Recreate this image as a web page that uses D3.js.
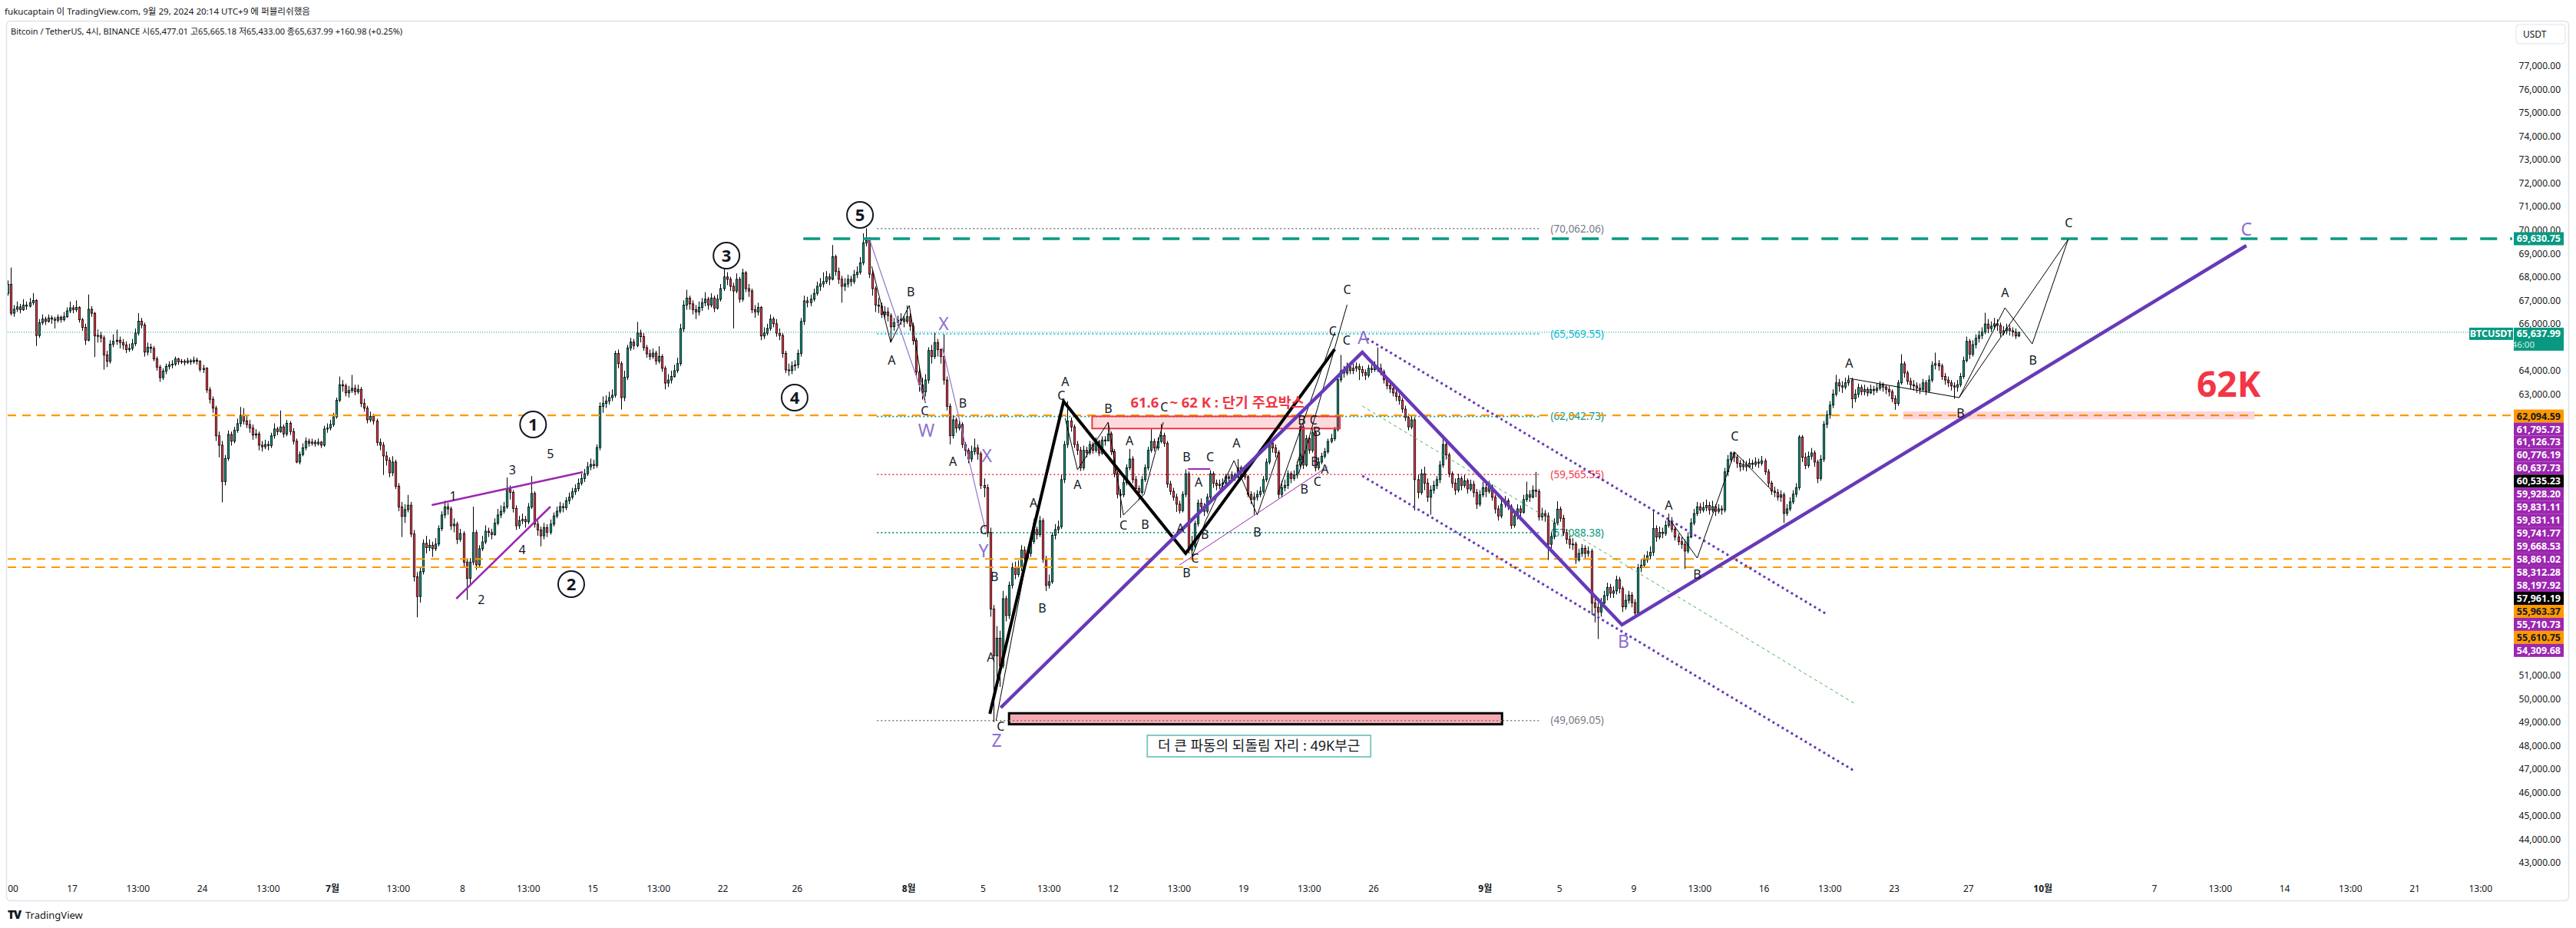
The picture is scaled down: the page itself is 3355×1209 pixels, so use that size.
<!DOCTYPE html>
<html><head><meta charset="utf-8">
<script src="https://cdn.jsdelivr.net/npm/d3@7"></script>
<style>
html,body{margin:0;padding:0;background:#fff;}
svg{display:block;}
text{font-family:"Noto Sans","Noto Sans CJK KR",sans-serif;}
</style></head><body>
<script>
// ---------------- DATA ----------------
// 4h candles of BTC/USDT (KST wall clock), values in thousand USDT: [high, low, close]; open = previous close
const firstOpen = 67.30;
const juneBars = [
[67.85,67.20,67.68],[68.40,66.35,66.45],[66.80,66.30,66.62],
[66.95,66.50,66.72],[66.85,66.45,66.60],[67.05,66.55,66.80],[66.95,66.60,66.75],[67.10,66.70,66.90],[67.31,66.80,66.99],
[67.05,65.05,65.50],[66.20,65.40,66.05],[66.40,65.95,66.20],[66.30,65.95,66.10],[66.40,66.05,66.25],[66.35,66.00,66.20],
[66.30,65.80,66.15],[66.40,66.05,66.28],[66.35,66.05,66.18],[66.50,66.10,66.30],[66.70,66.25,66.55],[66.95,66.45,66.68],
[66.80,66.45,66.60],[67.00,66.50,66.70],[66.75,66.05,66.17],[66.25,65.70,65.85],[66.00,65.10,65.30],[67.25,65.25,66.62],
[66.75,66.30,66.45],[66.50,64.58,65.48],[65.75,65.20,65.50],[65.65,65.20,65.40],[65.50,64.04,64.67],[64.85,64.15,64.40],
[65.30,64.30,65.13],[65.55,65.00,65.25],[65.75,65.10,65.30],[65.45,64.95,65.20],[65.35,64.90,65.10],[65.25,64.75,64.90],
[65.15,64.80,64.95],[65.35,64.85,65.15],[65.80,65.05,65.60],[66.45,65.50,66.11],[66.25,65.80,65.95],[66.05,64.60,64.79],
[65.20,64.65,65.00],[65.15,64.75,64.95],[65.05,64.40,64.50],[64.60,64.00,64.15],[64.25,63.52,63.70],[64.10,63.60,63.98],
[64.30,63.85,64.18],[64.40,64.05,64.25],[64.45,64.10,64.28],[64.60,64.20,64.50],[64.55,64.25,64.38],[64.50,64.28,64.40],
[64.48,64.22,64.35],[64.55,64.28,64.42],[64.50,64.25,64.38],[64.60,64.30,64.45],[64.55,64.25,64.40],[64.45,63.95,64.05],
[64.25,63.90,64.10],[64.15,63.05,63.18],[63.30,62.60,62.78],[62.90,62.20,62.40],[62.50,61.00,61.22],[61.40,60.30,60.82],
[61.00,58.38,59.27],[60.40,59.10,60.25],[61.45,60.15,61.28],[61.40,60.80,60.99],[61.60,60.90,61.45],[61.95,61.35,61.74],
[62.45,61.60,62.09],[62.40,61.70,61.85],[62.10,61.55,61.70],[61.90,61.35,61.55],[61.70,61.05,61.25],[61.50,61.10,61.30],
[61.40,60.60,60.82],[61.00,60.55,60.75],[61.05,60.65,60.85],[61.00,60.60,60.80],[61.35,60.70,61.22],[61.75,61.10,61.51],
[61.60,61.25,61.40],[62.30,61.35,61.60],[61.70,61.15,61.30],[61.90,61.20,61.75],[61.85,61.25,61.40],[61.55,60.85,60.99],
[61.10,60.05,60.10],[60.55,60.00,60.42],[60.90,60.35,60.71],[61.15,60.60,60.99],[61.10,60.75,60.90],[61.10,60.80,60.95],
[61.05,60.75,60.88],[61.10,60.80,60.95],[61.00,60.70,60.82],[61.65,60.75,61.51],[61.75,61.35,61.55],[61.90,61.45,61.70]
];
const julyBars = [
[62.20,61.60,62.03],[62.85,61.95,62.74],[63.75,62.65,63.40],[63.60,63.10,63.35],[63.45,62.90,63.05],[63.35,62.85,63.15],
[63.82,63.05,63.25],[63.40,62.95,63.10],[63.40,63.00,63.20],[63.30,62.45,62.60],[62.80,62.25,62.40],[62.50,61.75,61.90],
[62.25,61.80,62.05],[62.15,61.70,61.85],[61.95,60.80,60.94],[61.10,60.60,60.82],[60.95,59.55,60.36],[60.55,59.95,60.17],
[60.30,59.45,59.64],[60.35,59.50,60.10],[60.20,58.95,59.07],[59.20,58.00,58.18],[58.40,56.90,57.78],[58.30,57.50,58.07],
[58.70,57.95,58.26],[58.40,56.90,57.03],[57.20,55.00,55.20],[55.40,53.47,54.36],[55.60,54.10,55.42],[56.80,55.30,56.63],
[56.95,56.20,56.45],[56.80,56.30,56.55],[56.70,56.05,56.40],[56.85,56.30,56.60],[57.40,56.50,57.26],[58.00,57.15,57.84],
[58.45,57.70,58.18],[58.35,57.85,58.10],[58.20,57.20,57.38],[57.70,57.10,57.45],[57.55,56.60,56.80],[57.25,56.70,57.05],
[57.15,55.60,55.83],[55.95,54.22,55.14],[56.00,54.90,55.83],[58.20,55.70,57.09],[57.20,55.50,55.71],[56.55,55.60,56.40],
[56.95,56.30,56.69],[57.40,56.60,57.15],[57.30,56.90,57.09],[57.25,56.80,57.00],[57.70,56.95,57.49],[58.10,57.40,57.84],
[58.25,57.70,58.00],[58.40,57.90,58.18],[59.44,58.10,58.93],[59.10,58.50,58.81],[58.90,57.95,58.12],[58.25,57.20,57.38],
[57.80,57.25,57.60],[57.90,57.45,57.65],[57.80,57.30,57.55],[58.35,57.45,58.18],[59.50,58.10,58.76],[58.85,57.30,57.45],
[57.60,56.95,57.20],[57.35,56.50,56.95],[57.50,56.80,57.30],[57.45,56.90,57.10],[57.65,57.00,57.45],[57.95,57.35,57.80],
[58.20,57.70,58.00],[58.40,57.90,58.20],[58.35,57.95,58.15],[58.60,58.05,58.45],[58.80,58.30,58.60],[59.00,58.50,58.83],
[59.15,58.70,58.96],[59.40,58.85,59.20],[59.60,59.10,59.40],[59.80,59.25,59.60],[60.10,59.50,59.90],[60.25,59.75,60.00],
[60.20,59.80,59.95],[60.85,59.85,60.72],[62.65,60.60,62.47],[62.90,62.20,62.60],[62.95,62.40,62.70],[63.10,62.55,62.85],
[63.20,62.70,62.95],[64.85,62.85,64.73],[64.90,64.10,64.30],[64.40,62.34,62.85],[64.00,62.70,63.72],[65.10,63.60,64.97],
[65.40,64.85,65.22],[65.35,64.90,65.07],[66.08,65.00,65.60],[65.75,65.20,65.45],[65.60,64.85,64.98],[65.10,64.55,64.72],
[64.90,64.45,64.60],[64.95,64.50,64.75],[64.85,64.25,64.41],[65.04,64.30,64.60],[64.70,63.95,64.10],[64.20,63.20,63.47],
[63.85,63.30,63.60],[64.00,63.45,63.75],[64.25,63.70,64.00],[64.55,63.90,64.30],[66.00,64.20,65.79],[67.00,65.65,66.80],
[67.45,66.60,67.10],[67.20,66.60,66.85],[67.00,66.40,66.60],[66.80,66.20,66.50],[66.95,66.35,66.70],[67.10,66.55,66.90],
[67.35,66.75,67.05],[67.15,66.60,66.80],[67.30,66.70,67.10],[67.20,66.50,66.67],[67.25,66.60,67.05],[67.70,66.95,67.50],
[68.42,67.40,68.00],[68.20,67.65,67.90],[68.00,67.40,67.60],[67.75,65.80,67.40],[68.15,67.30,67.90],[68.00,66.90,67.05],
[68.35,66.95,68.17],[68.25,67.35,67.50],[67.70,67.15,67.40],[67.50,66.45,66.60],[66.80,66.25,66.50],[66.90,66.35,66.70],
[66.75,65.30,65.48],[65.85,65.35,65.60],[66.00,65.50,65.80],[66.40,65.70,66.20],[66.30,65.85,66.00],[66.20,65.45,65.60],
[65.80,65.30,65.50],[65.60,64.55,64.73],[64.85,63.90,64.03],[64.30,63.78,64.00],[64.40,63.85,64.20],[64.45,64.00,64.25],
[64.90,64.10,64.73],[66.25,64.60,66.10],[67.20,65.95,66.98],[67.15,66.70,66.90],[67.25,66.75,67.05],[67.50,66.95,67.30],
[67.80,67.20,67.60],[67.95,67.40,67.70],[68.20,67.55,67.80],[68.25,67.70,68.00],[68.15,67.65,67.90],[69.36,67.85,68.86],
[68.95,68.05,68.23],[68.40,67.70,67.90],[68.05,66.90,67.60],[67.95,67.40,67.70],[68.10,67.55,67.90],[68.05,67.60,67.80],
[68.30,67.70,68.10],[68.45,67.95,68.20],[68.85,68.10,68.60],[69.86,68.50,69.45],[70.08,69.30,69.55],[69.70,67.95,68.12],
[68.30,67.20,67.50],[67.60,66.50,66.80],[67.10,66.45,66.75],[66.90,66.25,66.40],[66.75,66.20,66.50],[66.70,66.10,66.35],
[66.45,65.20,65.87],[66.25,65.70,66.05],[66.35,65.90,66.15],[66.45,65.95,66.20],[66.35,65.85,66.10],[66.78,66.00,66.30]
];
const augBars = [
[66.45,65.70,65.90],[66.05,65.10,65.28],[65.40,63.80,63.94],[64.20,63.10,63.40],[63.70,62.77,63.10],[63.85,62.90,63.60],
[65.00,63.45,64.86],[65.10,64.30,64.60],[65.62,64.50,65.20],[65.35,64.60,64.90],[64.95,64.30,64.60],[65.55,63.40,63.60],
[63.75,62.30,62.48],[62.60,60.85,61.23],[62.10,61.10,61.90],[62.00,61.35,61.55],[61.95,61.45,61.70],[61.80,60.70,60.85],
[60.95,60.35,60.60],[60.70,60.05,60.23],[60.80,60.10,60.55],[61.10,60.40,60.70],[60.85,60.20,60.45],[60.55,58.95,59.10],
[59.40,58.60,59.00],[59.15,56.90,57.09],[57.30,53.50,53.83],[54.00,49.00,51.83],[53.10,50.90,52.58],[52.90,50.50,51.40],
[54.60,51.30,54.27],[54.40,53.30,53.55],[55.00,53.40,54.84],[55.80,54.70,55.59],[55.85,55.10,55.30],[55.90,55.20,55.60],
[56.55,55.45,56.34],[56.50,55.80,56.00],[56.45,55.90,56.20],[56.90,56.05,56.71],[57.40,56.60,57.22],[57.35,56.80,57.00],
[57.80,56.90,57.59],[57.70,55.80,55.96],[56.10,54.59,54.84],[55.30,54.70,54.99],[57.10,54.90,56.97],[57.45,56.80,57.22],
[57.60,57.05,57.34],[59.55,57.25,59.35],[61.00,59.20,60.85],[62.70,60.70,61.85],[62.00,61.40,61.60],[61.70,60.70,60.85],
[61.00,60.40,60.60],[60.75,59.72,59.85],[60.80,59.75,60.60],[60.75,60.30,60.50],[61.00,60.40,60.85],[60.95,60.45,60.60],
[61.15,60.50,60.98],[61.05,60.35,60.48],[61.20,60.40,61.04],[61.20,60.80,61.00],[61.79,61.00,61.30],[61.40,60.40,60.54],
[60.65,59.45,59.60],[59.70,58.55,58.72],[58.95,57.72,58.70],[59.40,58.60,59.22],[60.00,59.10,59.85],[60.66,59.75,60.23],
[60.35,59.20,59.35],[59.50,58.80,58.97],[59.10,58.47,58.80],[59.50,58.70,59.35],[60.00,59.25,59.85],[60.75,59.75,60.60],
[61.54,60.50,60.98],[61.10,60.55,60.70],[61.15,60.60,60.98],[61.73,60.90,61.23],[61.35,60.75,60.90],[61.00,59.00,59.16],
[59.30,58.70,58.85],[59.00,58.45,58.60],[58.75,57.97,58.30],[58.45,57.90,58.03],[58.85,57.95,58.72],[59.79,58.60,59.60],
[59.70,56.20,56.34],[56.95,56.03,56.50],[57.60,56.40,57.47],[58.50,57.35,58.35],[58.55,58.00,58.20],[58.35,57.80,58.00],
[58.75,57.90,58.60],[59.75,58.50,59.60],[59.70,59.00,59.20],[59.35,58.90,59.10],[59.35,58.95,59.15],[59.40,59.00,59.20],
[59.60,59.10,59.47],[59.60,59.25,59.40],[59.70,59.30,59.55],[59.65,59.30,59.45],[60.23,59.40,59.85],[59.95,59.55,59.75],
[59.85,59.35,59.47],[59.55,58.60,58.72],[58.85,58.30,58.50],[58.80,57.85,58.60],[58.90,58.45,58.72],[59.05,58.60,58.85],
[59.50,58.75,59.35],[60.25,59.25,60.10],[61.10,60.00,60.91],[61.05,60.50,60.70],[60.85,60.30,60.50],[60.60,58.55,58.72],
[59.30,58.60,59.00],[59.35,58.85,59.10],[59.75,58.95,59.60],[59.70,59.20,59.40],[59.75,59.30,59.55],[60.10,59.40,59.97],
[61.75,59.85,61.60],[61.70,59.80,59.97],[61.25,59.90,61.10],[61.20,60.45,60.60],[61.50,60.50,61.35],[61.45,59.70,59.85],
[60.30,59.75,60.10],[60.50,60.00,60.35],[60.70,60.25,60.54],[61.10,60.45,60.98],[61.30,60.90,61.10],[61.60,61.00,61.48],
[63.80,61.40,63.61],[64.67,63.50,63.99],[64.20,63.70,63.90],[64.35,63.80,64.17],[64.30,63.85,64.00],[64.30,63.85,64.10],
[64.35,63.95,64.17],[64.30,63.60,64.05],[64.20,63.75,63.92],[64.05,63.60,63.80],[64.25,63.70,64.10],[64.25,63.90,64.05],
[64.40,63.95,64.15],[64.99,63.95,64.10],[64.30,63.80,63.95],[64.05,63.45,63.61],[63.75,63.20,63.36],[63.50,63.05,63.23],
[63.35,62.90,63.05],[63.20,62.70,62.90],[63.00,62.55,62.73],[62.85,62.20,62.36],[62.50,61.85,62.00],[62.15,61.45,61.60],
[62.05,61.50,61.90],[62.00,58.03,59.35],[59.55,58.55,58.80],[59.80,58.70,59.60],[59.90,58.90,59.20],[59.40,58.40,58.60],
[59.10,57.85,58.90],[59.30,58.75,59.10],[59.50,58.95,59.35],[60.15,59.20,59.97],[61.10,59.85,60.85],[61.00,60.20,60.40],
[60.50,59.45,59.60],[59.70,59.00,59.20],[59.40,58.70,58.90],[59.60,58.80,59.40],[59.50,58.90,59.10],[59.55,59.00,59.30],
[59.40,58.75,58.95],[59.35,58.85,59.15],[59.30,58.60,58.80],[58.95,58.10,58.30],[58.90,58.20,58.70],[59.25,58.60,59.00]
];
const sepBars = [
[59.20,58.60,58.85],[59.30,58.75,59.05],[59.15,58.45,58.60],[58.70,57.90,58.10],[58.25,57.60,57.80],[58.50,57.70,58.30],
[58.65,58.15,58.45],[58.55,58.05,58.20],[58.30,57.25,57.40],[58.00,57.30,57.80],[58.30,57.65,58.10],[58.25,57.75,57.95],
[58.70,57.90,58.50],[59.26,58.40,58.70],[58.90,58.40,58.60],[59.10,58.55,58.90],[59.68,58.60,58.85],[58.95,57.60,57.76],
[58.15,57.60,57.90],[58.05,57.55,57.80],[57.95,55.92,56.59],[57.10,56.40,56.92],[57.70,56.80,57.50],[58.43,57.40,58.09],
[58.20,57.55,57.70],[57.85,56.95,57.09],[57.25,56.60,56.80],[56.95,56.40,56.59],[56.85,56.35,56.60],[56.70,55.75,55.92],
[56.40,55.85,56.20],[56.60,56.05,56.42],[56.55,56.00,56.20],[56.50,56.05,56.30],[56.40,53.58,54.08],[54.40,53.25,53.90],
[54.10,52.55,53.70],[54.30,53.50,54.08],[54.60,53.90,54.40],[54.95,54.20,54.75],[54.90,54.30,54.50],[54.80,54.30,54.60],
[55.25,54.45,55.08],[55.20,54.50,54.70],[54.80,53.70,53.92],[54.45,53.80,54.20],[54.60,54.05,54.42],[54.55,53.90,54.10],
[54.25,53.50,53.66],[55.75,53.60,55.59],[55.95,55.40,55.70],[56.15,55.60,55.92],[56.30,55.80,56.10],[56.50,55.95,56.25],
[58.01,56.10,57.26],[57.40,56.70,56.90],[57.35,56.80,57.10],[57.30,56.85,57.05],[57.60,56.95,57.40],[57.90,57.30,57.59],
[57.75,57.10,57.23],[57.35,56.75,56.90],[57.05,56.55,56.70],[56.90,56.40,56.59],[56.80,55.54,56.30],[57.10,56.20,56.90],
[57.70,56.85,57.50],[58.10,57.40,57.90],[58.40,57.80,58.19],[58.35,57.90,58.05],[58.40,57.95,58.15],[58.50,58.00,58.25],
[58.40,57.85,58.05],[58.45,57.95,58.20],[58.30,57.80,58.00],[58.30,57.90,58.10],[58.25,57.85,58.05],[59.85,57.95,59.68],
[60.40,59.50,60.20],[60.55,60.05,60.49],[60.55,60.10,60.30],[60.40,59.85,60.05],[60.20,59.70,59.90],[60.20,59.75,60.00],
[60.15,59.70,59.90],[60.25,59.85,60.05],[60.20,59.80,60.00],[60.30,59.90,60.10],[60.25,59.85,60.05],[60.36,59.95,60.15],
[60.25,59.55,59.68],[59.80,59.05,59.20],[59.30,58.70,58.86],[59.05,58.60,58.80],[58.95,58.45,58.60],[58.90,58.40,58.70],
[58.80,57.50,57.91],[58.30,57.80,58.10],[58.60,58.00,58.40],[58.90,58.30,58.73],[59.20,58.60,59.00],[61.25,58.90,61.17],
[61.25,60.10,60.30],[60.50,59.80,59.95],[60.55,59.85,60.35],[60.70,60.20,60.49],[60.60,59.90,60.10],[60.20,59.20,59.40],
[60.40,59.30,60.22],[61.85,60.10,61.71],[62.30,61.55,62.12],[62.70,61.95,62.53],[63.20,62.40,63.00],[63.82,62.90,63.48],
[63.65,63.10,63.35],[63.55,63.05,63.30],[63.70,63.20,63.48],[63.80,63.35,63.60],[63.70,62.39,62.80],[63.20,62.65,63.00],
[63.45,62.85,63.28],[63.40,62.95,63.10],[63.40,62.95,63.20],[63.30,62.90,63.05],[63.40,63.00,63.20],[63.35,62.95,63.15],
[63.45,63.05,63.25],[63.55,63.15,63.40],[63.50,63.10,63.30],[63.40,63.00,63.20],[63.35,62.90,63.10],[63.20,62.65,62.80],
[62.95,62.33,62.60],[63.60,62.50,63.48],[64.70,63.40,64.29],[64.40,63.70,63.90],[64.00,63.40,63.55],[63.70,63.20,63.40],
[63.60,63.15,63.35],[63.50,63.05,63.25],[63.45,63.00,63.20],[63.65,63.10,63.48],[63.60,62.95,63.14],[63.80,63.05,63.60],
[64.40,63.50,64.23],[64.77,64.05,64.30],[64.45,64.00,64.20],[64.30,63.60,63.75],[63.90,63.40,63.60],[63.75,63.30,63.48],
[63.60,63.15,63.35],[63.50,62.80,63.30],[63.60,63.10,63.40],[63.90,63.30,63.75],[64.60,63.65,64.43],[65.45,64.35,65.25],
[65.35,64.50,64.70],[65.30,64.60,65.11],[65.55,64.95,65.38],[65.70,65.20,65.50],[65.85,65.35,65.65],[66.47,65.55,65.99],
[66.20,65.60,65.80],[66.10,65.65,65.90],[66.25,65.75,66.00],[66.20,65.70,65.93],[66.05,65.45,65.60],[65.90,65.50,65.70],
[66.00,65.55,65.80],[65.95,65.50,65.70],[65.85,65.45,65.65],[65.80,65.35,65.48],[65.67,65.43,65.64]
];
// start of each month's first bar (KST wall clock)
const monthStarts = ["2024-06-13T13:00","2024-07-01T01:00","2024-08-01T01:00","2024-09-01T01:00"];
const chartStart = "2024-06-13T13:00";

// price axis
const priceTicks = [77000,76000,75000,74000,73000,72000,71000,70000,69000,68000,67000,66000,64000,63000,51000,50000,49000,48000,47000,46000,45000,44000,43000];
// time axis: [label, time, isMonth]
const timeTicks = [
["00","2024-06-13T13:00",0],["17","2024-06-17T00:00",0],["13:00","2024-06-20T13:00",0],["24","2024-06-24T00:00",0],
["13:00","2024-06-27T13:00",0],["7월","2024-07-01T00:00",1],["13:00","2024-07-04T13:00",0],["8","2024-07-08T00:00",0],
["13:00","2024-07-11T13:00",0],["15","2024-07-15T00:00",0],["13:00","2024-07-18T13:00",0],["22","2024-07-22T00:00",0],
["26","2024-07-26T00:00",0],["8월","2024-08-01T00:00",1],["5","2024-08-05T00:00",0],["13:00","2024-08-08T13:00",0],
["12","2024-08-12T00:00",0],["13:00","2024-08-15T13:00",0],["19","2024-08-19T00:00",0],["13:00","2024-08-22T13:00",0],
["26","2024-08-26T00:00",0],["9월","2024-09-01T00:00",1],["5","2024-09-05T00:00",0],["9","2024-09-09T00:00",0],
["13:00","2024-09-12T13:00",0],["16","2024-09-16T00:00",0],["13:00","2024-09-19T13:00",0],["23","2024-09-23T00:00",0],
["27","2024-09-27T00:00",0],["10월","2024-10-01T00:00",1],["7","2024-10-07T00:00",0],["13:00","2024-10-10T13:00",0],
["14","2024-10-14T00:00",0],["13:00","2024-10-17T13:00",0],["21","2024-10-21T00:00",0],["13:00","2024-10-24T13:00",0]
];

// horizontal levels
const orangeLevels = [62094.59, 55963.37, 55610.75];
const targetLevel = 69630.75;
const targetFromBar = 256.7;
const lastPrice = 65637.99;
// fib retracement (bar index span, levels, colours)
const fibLevels = [70062.06, 65569.55, 62042.73, 59565.55, 57088.38, 49069.05];
const fibColors = ["#787b86","#00bcd4","#089981","#f23645","#089981","#787b86"];
const fibSpan = [280.5, 494.4];
// stacked price-scale labels
const stackLabels = ["62,094.59","61,795.73","61,126.73","60,776.19","60,637.73","60,535.23","59,928.20","59,831.11","59,831.11","59,741.77","59,668.53","58,861.02","58,312.28","58,197.92","57,961.19","55,963.37","55,710.73","55,610.75","54,309.68"];
const stackKinds = ["o","p","p","p","p","k","p","p","p","p","p","p","p","p","k","o","p","o","p"];

// drawings: points are [bar index from chart start, price]
const purpleWave = [[320.4,49617],[437.1,64783],[520.9,53155],[722.4,69336]];
const blackWave = [[316.9,49355],[340.7,62686],[380.1,56200],[428.2,64913]];
const channelUpper = [[438.6,65372],[587.3,53580]];
const channelLower = [[437.1,59509],[595.7,46935]];
const channelMid = [[437.1,62490],[595.7,49814]];
const magentaLines = [[[136.8,58264],[185.6,59672]], [[144.7,54268],[175.1,58199]]];
const thinBlack = [
 [[278.8,68450],[284.9,65208],[290.9,66780],[296.1,62620]],
 [[318.9,49060],[331.3,57708]],
 [[341.2,61966],[345.2,59771],[355.1,61802],[360.0,57839],[366.7,58723],[372.9,61802]],
 [[382.3,56103],[386.6,57610],[395.7,60164],[403.2,57839],[410.3,60590]],
 [[409.8,58723],[428.2,65634]],
 [[416.6,59607],[432.2,66813]],
 [[536.7,57576],[545.2,56004],[557.3,60524],[569.5,58854]],
 [[594.2,63669],[629.7,62850],[644.5,66682],[653.3,65143],[664.9,69598]],
 [[629.7,62850],[664.9,69598]]
];
const thinLavender = [[[278.0,69630],[296.1,62620]], [[301.6,64979],[315.4,57249]]];
const thinMagenta = [[[378.1,55710],[425.9,59902]]];
const shortPurple = [[380.8,59803],[388.0,59803]];

const boxMajor = {k0:349.9, k1:429.9, p0:62050, p1:61530, textA:"61.6", textB:"~ 62 K : 단기 주요박스", splitK:373.2, tp:62640};
const box49 = {k0:323.1, k1:482.2, p0:49380, p1:48910};
const note49 = {k0:367.7, k1:439.8, p0:48438, p1:47520, text:"더 큰 파동의 되돌림 자리 : 49K부근"};
const band62 = {k0:611.6, k1:725.1, p0:62260, p1:61920, text:"62K", tk:716.7, tp:63440};

const circleLabels = [["1",169.5,61704],["2",181.8,54890],["3",231.9,68910],["4",253.9,62850],["5",275.0,70646]];
const smallWave = [["1",143.7,58657],["3",162.8,59771],["5",175.1,60459],["4",166.0,56365],["2",152.8,54235]];
const abcLabels = [
["B",291.4,67370],["A",285.2,64455],["C",295.9,62300],["B",308.2,62620],["A",305.0,60131],["C",314.9,57200],
["B",318.4,55218],["A",317.2,51778],["C",320.4,48831],["A",331.0,58363],["B",333.8,53875],["A",341.2,63520],
["C",340.0,62948],["A",345.2,59149],["B",355.1,62391],["C",373.2,62440],["A",362.0,61016],["C",360.0,57413],
["B",367.0,57446],["B",380.4,60328],["C",388.0,60328],["A",384.3,59247],["A",396.5,60918],["A",378.4,57282],
["B",386.3,57020],["C",383.1,55980],["B",380.4,55360],["B",403.2,57118],["B",417.6,61880],["C",421.4,61880],
["A",417.2,60262],["B",421.8,60131],["B",422.4,61400],["A",425.0,59803],["C",422.6,59260],["B",418.4,58950],
["C",427.6,65700],["C",432.0,65300],["C",432.2,67468],["A",536.0,58265],["B",545.2,55317],["C",557.3,61212],
["A",594.2,64324],["B",630.2,62195],["A",644.5,67337],["B",653.5,64455],["C",665.1,70300]
];
const lavenderLabels = [["W",296.4,61450],["X",302.0,65994],["X",315.9,60360],["Y",314.9,56300],["Z",319.1,48209],["A",437.4,65404],["B",521.4,52434],["C",722.4,70023]];

// ---------------- DRAW ----------------
const W = 3355, H = 1209;
const plot = {x0:10, x1:3272, y0:28, y1:1145};
const parse = d3.utcParse("%Y-%m-%dT%H:%M");
const BAR = 4*3600*1000;
const x = d3.scaleUtc().domain([parse("2024-06-17T00:00"), parse("2024-10-21T00:00")]).range([94, 3145]);
const y = d3.scaleLinear().domain([43000, 77000]).range([1124, 86]);
const t0 = parse(chartStart).getTime();
const bx = k => x(new Date(t0 + k*BAR));
const py = p => y(p);

const svg = d3.select("body").append("svg").attr("width", W).attr("height", H);
svg.append("rect").attr("width", W).attr("height", H).attr("fill", "#fff");
svg.append("defs").append("clipPath").attr("id","plotclip").append("rect")
  .attr("x",plot.x0).attr("y",plot.y0).attr("width",plot.x1-plot.x0).attr("height",plot.y1-plot.y0);

// header
svg.append("text").attr("x",6).attr("y",19).attr("font-size",11.6).attr("fill","#131722")
  .text("fukucaptain 이 TradingView.com, 9월 29, 2024 20:14 UTC+9 에 퍼블리쉬했음");
// frame
svg.append("rect").attr("x",8.5).attr("y",27.5).attr("width",3337).attr("height",1146).attr("rx",5)
  .attr("fill","none").attr("stroke","#e0e3eb").attr("stroke-width",1.5);
svg.append("text").attr("x",14).attr("y",45).attr("font-size",11).attr("fill","#131722")
  .text("Bitcoin / TetherUS, 4시, BINANCE  시65,477.01  고65,665.18  저65,433.00  종65,637.99  +160.98 (+0.25%)");

const g = svg.append("g").attr("clip-path","url(#plotclip)");
const line = d3.line().x(d=>bx(d[0])).y(d=>py(d[1]));

// fib levels
fibLevels.forEach((lv,i)=>{
  g.append("line").attr("x1",bx(fibSpan[0])).attr("x2",bx(fibSpan[1])).attr("y1",py(lv)).attr("y2",py(lv))
    .attr("stroke",fibColors[i]).attr("stroke-width",1.6).attr("stroke-dasharray","2,3");
  g.append("text").attr("x",bx(fibSpan[1])+14).attr("y",py(lv)).attr("dy","0.35em").attr("font-size",13.5)
    .attr("fill",fibColors[i]).text("("+d3.format(",.2f")(lv)+")");
});

// candles
const allMonths = [juneBars, julyBars, augBars, sepBars];
let prevClose = firstOpen;
const candles = [];
allMonths.forEach((arr, mi)=>{
  const ms = parse(monthStarts[mi]).getTime();
  arr.forEach((b,i)=>{
    candles.push({t:new Date(ms + i*BAR), o:prevClose*1000, h:b[0]*1000, l:b[1]*1000, c:b[2]*1000});
    prevClose = b[2];
  });
});
const cg = g.append("g");
candles.forEach(d=>{
  const cx = Math.round(x(d.t))+0.5;
  const hi = Math.max(d.h, d.o, d.c), lo = Math.min(d.l, d.o, d.c);
  cg.append("line").attr("x1",cx).attr("x2",cx).attr("y1",y(hi)).attr("y2",y(lo)).attr("stroke","#000").attr("stroke-width",1);
  const top = y(Math.max(d.o,d.c)), bot = y(Math.min(d.o,d.c));
  cg.append("rect").attr("x",cx-1.2).attr("width",2.4).attr("y",top).attr("height",Math.max(1,bot-top))
    .attr("fill", d.c>=d.o ? "#089981" : "#f23645").attr("stroke","#000").attr("stroke-width",0.8);
});

// horizontal lines
orangeLevels.forEach(lv=>{
  g.append("line").attr("x1",plot.x0).attr("x2",plot.x1).attr("y1",py(lv)).attr("y2",py(lv))
    .attr("stroke","#ff9800").attr("stroke-width",2.2).attr("stroke-dasharray","11,8");
});
g.append("line").attr("x1",bx(targetFromBar)).attr("x2",plot.x1).attr("y1",py(targetLevel)).attr("y2",py(targetLevel))
  .attr("stroke","#089981").attr("stroke-width",3.5).attr("stroke-dasharray","22,17");
g.append("line").attr("x1",plot.x0).attr("x2",3216).attr("y1",py(lastPrice)).attr("y2",py(lastPrice))
  .attr("stroke","#089981").attr("stroke-width",1).attr("stroke-dasharray","1,2");

// boxes
g.append("rect").attr("x",bx(box49.k0)).attr("y",py(box49.p0)).attr("width",bx(box49.k1)-bx(box49.k0)).attr("height",py(box49.p1)-py(box49.p0))
  .attr("fill","#f6a9b0").attr("stroke","#000").attr("stroke-width",3);
g.append("line").attr("x1",bx(box49.k0)).attr("x2",bx(box49.k1)).attr("y1",py(fibLevels[5])).attr("y2",py(fibLevels[5]))
  .attr("stroke","#787b86").attr("stroke-width",1.4).attr("stroke-dasharray","2,3");
g.append("rect").attr("x",bx(boxMajor.k0)).attr("y",py(boxMajor.p0)).attr("width",bx(boxMajor.k1)-bx(boxMajor.k0)).attr("height",py(boxMajor.p1)-py(boxMajor.p0))
  .attr("fill","rgba(242,54,69,0.18)").attr("stroke","#f23645").attr("stroke-width",2);
g.append("rect").attr("x",bx(band62.k0)).attr("y",py(band62.p0)).attr("width",bx(band62.k1)-bx(band62.k0)).attr("height",py(band62.p1)-py(band62.p0))
  .attr("fill","rgba(242,54,69,0.2)");

// lines
g.append("path").attr("d",line(channelMid)).attr("fill","none").attr("stroke","#4caf50").attr("stroke-width",1).attr("stroke-dasharray","4,4");
[channelUpper, channelLower].forEach(c=>g.append("path").attr("d",line(c)).attr("fill","none")
  .attr("stroke","#673ab7").attr("stroke-width",3).attr("stroke-dasharray","3,4"));
thinBlack.forEach(p=>g.append("path").attr("d",line(p)).attr("fill","none").attr("stroke","#000").attr("stroke-width",1));
thinLavender.forEach(p=>g.append("path").attr("d",line(p)).attr("fill","none").attr("stroke","#9575cd").attr("stroke-width",1.2));
thinMagenta.forEach(p=>g.append("path").attr("d",line(p)).attr("fill","none").attr("stroke","#9c27b0").attr("stroke-width",1));
g.append("path").attr("d",line(shortPurple)).attr("fill","none").attr("stroke","#9c27b0").attr("stroke-width",2);
magentaLines.forEach(p=>g.append("path").attr("d",line(p)).attr("fill","none").attr("stroke","#9c27b0").attr("stroke-width",2.5));
g.append("path").attr("d",line(blackWave)).attr("fill","none").attr("stroke","#000").attr("stroke-width",4).attr("stroke-linejoin","miter");
g.append("path").attr("d",line(purpleWave)).attr("fill","none").attr("stroke","#673ab7").attr("stroke-width",4.5);

// note box
g.append("rect").attr("x",bx(note49.k0)).attr("y",py(note49.p0)).attr("width",bx(note49.k1)-bx(note49.k0)).attr("height",py(note49.p1)-py(note49.p0))
  .attr("fill","#fff").attr("stroke","#80cbc4").attr("stroke-width",2);
g.append("text").attr("x",(bx(note49.k0)+bx(note49.k1))/2).attr("y",(py(note49.p0)+py(note49.p1))/2).attr("dy","0.36em")
  .attr("text-anchor","middle").attr("font-size",18).attr("fill","#131722").text(note49.text);
// red title of the major box, split around the "C" wave label
g.append("text").attr("x",bx(boxMajor.splitK)-7).attr("y",py(boxMajor.tp)).attr("dy","0.36em").attr("text-anchor","end")
  .attr("font-size",18.5).attr("font-weight","bold").attr("fill","#f23645").text(boxMajor.textA);
g.append("text").attr("x",bx(boxMajor.splitK)+7).attr("y",py(boxMajor.tp)).attr("dy","0.36em").attr("text-anchor","start")
  .attr("font-size",18.5).attr("font-weight","bold").attr("fill","#f23645").text(boxMajor.textB);
g.append("text").attr("x",bx(band62.tk)).attr("y",py(band62.tp)).attr("dy","0.36em").attr("text-anchor","middle")
  .attr("font-size",46).attr("font-weight","bold").attr("fill","#f23645").text(band62.text);

// labels
abcLabels.forEach(d=>g.append("text").attr("x",bx(d[1])).attr("y",py(d[2])).attr("dy","0.36em").attr("text-anchor","middle")
  .attr("font-size",16).attr("fill","#131722").text(d[0]));
smallWave.forEach(d=>g.append("text").attr("x",bx(d[1])).attr("y",py(d[2])).attr("dy","0.36em").attr("text-anchor","middle")
  .attr("font-size",16).attr("fill","#131722").text(d[0]));
lavenderLabels.forEach(d=>g.append("text").attr("x",bx(d[1])).attr("y",py(d[2])).attr("dy","0.36em").attr("text-anchor","middle")
  .attr("font-size",23).attr("fill","#8c6fd1").text(d[0]));
circleLabels.forEach(d=>{
  g.append("circle").attr("cx",bx(d[1])).attr("cy",py(d[2])).attr("r",17).attr("fill","#fff").attr("stroke","#131722").attr("stroke-width",2);
  g.append("text").attr("x",bx(d[1])).attr("y",py(d[2])).attr("dy","0.36em").attr("text-anchor","middle")
    .attr("font-size",22).attr("font-weight","bold").attr("fill","#131722").text(d[0]);
});

// price axis
priceTicks.forEach(v=>svg.append("text").attr("x",3335).attr("y",y(v)).attr("dy","0.36em").attr("text-anchor","end")
  .attr("font-size",12).attr("fill","#131722").text(d3.format(",.2f")(v)));
svg.append("rect").attr("x",3277).attr("y",32).attr("width",64).attr("height",25).attr("rx",4).attr("fill","#fff").attr("stroke","#e0e3eb");
svg.append("text").attr("x",3286).attr("y",44.5).attr("dy","0.36em").attr("font-size",12).attr("fill","#131722").text("USDT");

function axisBox(yc, h, fill, txt, txtFill){
  svg.append("rect").attr("x",3274).attr("y",yc-h/2).attr("width",65).attr("height",h).attr("fill",fill);
  svg.append("text").attr("x",3335).attr("y",yc).attr("dy","0.36em").attr("text-anchor","end").attr("font-size",12.5)
    .attr("font-weight","bold").attr("fill",txtFill).text(txt);
}
axisBox(py(targetLevel), 17, "#089981", d3.format(",.2f")(targetLevel), "#fff");
// last price label
const ly = py(lastPrice);
svg.append("rect").attr("x",3216).attr("y",ly-6).attr("width",57).attr("height",16).attr("fill","#089981");
svg.append("text").attr("x",3244.5).attr("y",ly+2).attr("dy","0.36em").attr("text-anchor","middle").attr("font-size",12.5)
  .attr("font-weight","bold").attr("fill","#fff").text("BTCUSDT");
svg.append("rect").attr("x",3274).attr("y",ly-6).attr("width",65).attr("height",30).attr("fill","#089981");
svg.append("text").attr("x",3335).attr("y",ly+2).attr("dy","0.36em").attr("text-anchor","end").attr("font-size",12.5)
  .attr("font-weight","bold").attr("fill","#fff").text(d3.format(",.2f")(lastPrice));
svg.append("text").attr("x",3301).attr("y",ly+15.5).attr("dy","0.36em").attr("text-anchor","end").attr("font-size",11.5)
  .attr("fill","rgba(255,255,255,0.85)").text("46:00");
// stacked labels
const kindFill = {o:"#ff9800", p:"#9c27b0", k:"#000"};
const kindText = {o:"#131722", p:"#fff", k:"#fff"};
const stackTop = py(orangeLevels[0]);
stackLabels.forEach((s,i)=>axisBox(stackTop + i*16.96 + 1, 17, kindFill[stackKinds[i]], s, kindText[stackKinds[i]]));

// time axis
timeTicks.forEach(d=>{
  const xx = x(parse(d[1]));
  svg.append("text").attr("x",xx).attr("y",1158).attr("dy","0.36em").attr("text-anchor", d[0]==="00"?"start":"middle")
    .attr("font-size",12).attr("font-weight",d[2]?"bold":"normal").attr("fill","#131722").text(d[0]);
});

// logo
svg.append("text").attr("x",10).attr("y",1192).attr("dy","0.36em").attr("font-size",15).attr("font-weight",900)
  .attr("fill","#131722").attr("letter-spacing",-1).text("TV");
svg.append("text").attr("x",33).attr("y",1192).attr("dy","0.36em").attr("font-size",13).attr("fill","#131722").text("TradingView");
</script></body></html>
